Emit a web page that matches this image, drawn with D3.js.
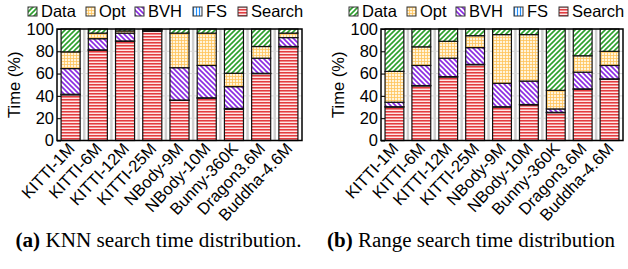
<!DOCTYPE html>
<html lang="en">
<head>
<meta charset="UTF-8">
<title>Search time distribution</title>
<style>
    body { margin: 0; background: #fff; }
    svg { display: block; }
    .tick text { font-family: "Liberation Sans", Arial, sans-serif; }
</style>
</head>
<body>
<script src="https://d3js.org/d3.v7.min.js"></script>
<script>
    // datasets (x axis)
    const datasets = ["KITTI-1M", "KITTI-6M", "KITTI-12M", "KITTI-25M", "NBody-9M",
                      "NBody-10M", "Bunny-360K", "Dragon3.6M", "Buddha-4.6M"];
    // stacking order bottom -> top
    const parts = ["Search", "FS", "BVH", "Opt", "Data"];
    const legendOrder = ["Data", "Opt", "BVH", "FS", "Search"];

    // (a) KNN search, % of time
    const knnSearch = [41, 81, 89, 98, 36, 38, 28, 60, 84];
    const knnFS     = [0.5, 0.3, 0.3, 0.3, 0.3, 0.3, 0.8, 0.3, 0.3];
    const knnBVH    = [23, 10, 7, 0.7, 29, 29, 19.5, 13.5, 8];
    const knnOpt    = [15, 5, 2, 0.5, 31, 29, 12, 10.5, 4];
    const knnData   = [20.5, 3.7, 1.7, 0.5, 3.7, 3.7, 39.7, 15.7, 3.7];

    // (b) Range search, % of time
    const rangeSearch = [30, 49, 57, 68, 30, 32, 25, 46, 55];
    const rangeFS     = [0.3, 0.3, 0.3, 0.3, 0.3, 0.3, 0.3, 0.3, 0.3];
    const rangeBVH    = [4, 18, 16.5, 15, 21, 21, 3, 15, 12];
    const rangeOpt    = [27.7, 16.7, 15.2, 10.7, 43.7, 41.7, 16.7, 14.7, 12.7];
    const rangeData   = [38, 16, 11, 6, 5, 5, 55, 24, 20];

    const yTicks = [0, 20, 40, 60, 80, 100];

    const W = 628, H = 269;
    const plotTop = 29, plotBottom = 140.5;

    const svg = d3.select("body").append("svg")
        .attr("width", W)
        .attr("height", H);

    // fill patterns
    const defs = svg.append("defs");
    function lines(id, bg, color, paths, size, sw) {
        const p = defs.append("pattern")
            .attr("id", id)
            .attr("patternUnits", "userSpaceOnUse")
            .attr("width", size)
            .attr("height", size);
        p.append("rect").attr("width", size).attr("height", size).attr("fill", bg);
        paths.forEach(d => p.append("path").attr("d", d)
            .attr("stroke", color).attr("stroke-width", sw).attr("fill", "none"));
    }
    lines("p-Data", "#fff", "#2ca02c", ["M0,5 L5,0", "M-1,1 L1,-1", "M4,6 L6,4"], 5, 1.6);
    lines("p-Opt", "#fff4dc", "#ffc35a", ["M0,1.5 H3", "M1.5,0 V3"], 3, 0.8);
    lines("p-BVH", "#fff", "#8a2be2", ["M0,0 L5,5", "M-1,4 L1,6", "M4,-1 L6,1"], 5, 1.6);
    lines("p-FS", "#fff", "#1f8fff", ["M1.5,0 V3"], 3, 1.2);
    lines("p-Search", "#ffe6e6", "#e0282c", ["M0,0.8 H3"], 3, 1.4);

    const y = d3.scaleLinear().domain([0, 100]).range([plotBottom, plotTop]);

    function panel(x0, x1, cols, caption, letter, capX, capW) {
        const g = svg.append("g");
        const x = d3.scaleBand().domain(datasets).range([x0, x1]).paddingInner(0.3).paddingOuter(0.15);
        const rows = datasets.map((d, i) => {
            const r = { name: d };
            parts.forEach((p, k) => r[p] = cols[k][i]);
            return r;
        });
        const series = d3.stack().keys(parts)(rows);

        // grid
        const step = (x1 - x0) / datasets.length;
        const grid = g.append("g");
        grid.selectAll("line.v")
            .data(d3.range(1, datasets.length))
            .enter().append("line")
            .attr("x1", i => x0 + i * step).attr("x2", i => x0 + i * step)
            .attr("y1", plotTop).attr("y2", plotBottom)
            .attr("stroke", "#cfcfcf").attr("stroke-width", 2.5);
        grid.selectAll("line.h")
            .data(yTicks.slice(1, -1))
            .enter().append("line")
            .attr("x1", x0).attr("x2", x1)
            .attr("y1", d => y(d)).attr("y2", d => y(d))
            .attr("stroke", "#d8d8d8").attr("stroke-width", 1);

        // bars
        g.selectAll("g.s")
            .data(series)
            .enter().append("g")
            .attr("fill", d => "url(#p-" + d.key + ")")
            .selectAll("rect")
            .data(d => d)
            .enter().append("rect")
            .attr("x", d => x(d.data.name))
            .attr("width", x.bandwidth())
            .attr("y", d => y(d[1]))
            .attr("height", d => y(d[0]) - y(d[1]))
            .attr("stroke", "#111")
            .attr("stroke-width", 1.2);

        // frame
        g.append("rect")
            .attr("x", x0).attr("y", plotTop)
            .attr("width", x1 - x0).attr("height", plotBottom - plotTop)
            .attr("fill", "none").attr("stroke", "#000").attr("stroke-width", 1.5);

        // y axis
        const yAxis = g.append("g")
            .attr("transform", "translate(" + x0 + ",0)")
            .call(d3.axisLeft(y).tickValues(yTicks).tickSize(-4).tickPadding(3));
        yAxis.select(".domain").remove();
        yAxis.selectAll(".tick line").attr("stroke", "#000");
        yAxis.selectAll("text").attr("font-size", 16.5).attr("fill", "#000");

        g.append("text")
            .attr("transform", "translate(" + (x0 - 37) + "," + ((plotTop + plotBottom) / 2) + ") rotate(-90)")
            .attr("text-anchor", "middle")
            .attr("font-family", "Liberation Sans, Arial, sans-serif")
            .attr("font-size", 16.5)
            .text("Time (%)");

        // x labels
        g.selectAll("text.xl")
            .data(datasets)
            .enter().append("text")
            .attr("transform", d => "translate(" + (x(d) + x.bandwidth() / 2 + 5) + "," + (plotBottom + 9) + ") rotate(-47)")
            .attr("text-anchor", "end")
            .attr("font-family", "Liberation Sans, Arial, sans-serif")
            .attr("font-size", 16.5)
            .text(d => d);

        // legend
        const lx = [x1 - 274, x1 - 216, x1 - 167, x1 - 109, x1 - 64];
        const lg = g.append("g");
        legendOrder.forEach((k, i) => {
            lg.append("rect")
                .attr("x", lx[i]).attr("y", 7)
                .attr("width", 9).attr("height", 9)
                .attr("fill", "url(#p-" + k + ")")
                .attr("stroke", "#333").attr("stroke-width", 1);
            lg.append("text")
                .attr("x", lx[i] + 13).attr("y", 17)
                .attr("font-family", "Liberation Sans, Arial, sans-serif")
                .attr("font-size", 16.5)
                .text(k);
        });

        // caption
        const cap = svg.append("text")
            .attr("x", capX).attr("y", 247)
            .attr("text-anchor", "middle")
            .attr("font-family", "Liberation Serif, Times New Roman, serif")
            .attr("font-size", 20)
            .attr("textLength", capW)
            .attr("lengthAdjust", "spacingAndGlyphs");
        cap.append("tspan").attr("font-weight", "bold").text("(" + letter + ")");
        cap.append("tspan").text(" " + caption);
    }

    panel(57, 302, [knnSearch, knnFS, knnBVH, knnOpt, knnData], "KNN search time distribution.", "a", 158.5, 286);
    panel(381, 623, [rangeSearch, rangeFS, rangeBVH, rangeOpt, rangeData], "Range search time distribution", "b", 471, 288);
</script>
</body>
</html>
